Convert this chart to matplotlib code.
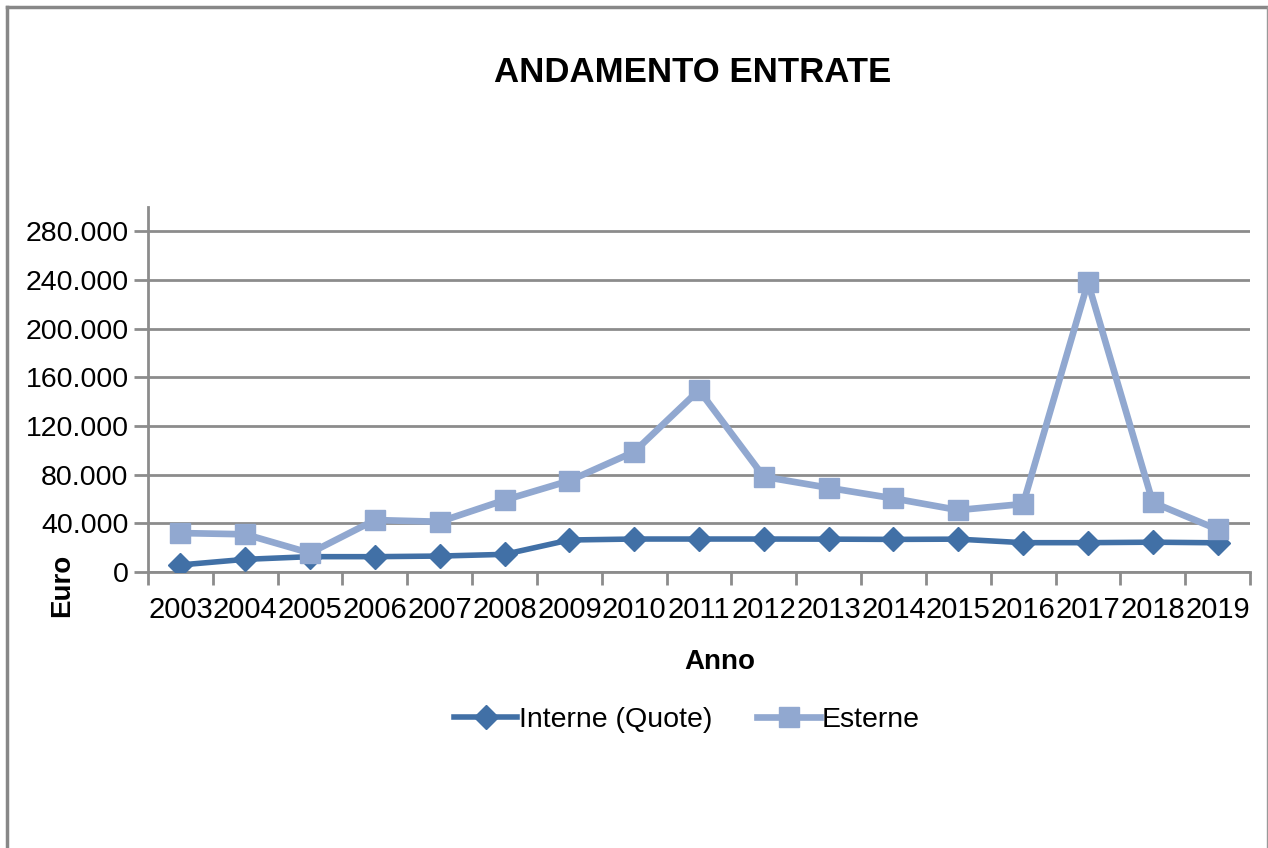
import matplotlib.pyplot as plt
from matplotlib.lines import Line2D

plt.rcParams["font.family"] = ["Liberation Sans", "DejaVu Sans"]

anni = ["2003", "2004", "2005", "2006", "2007", "2008", "2009", "2010", "2011",
        "2012", "2013", "2014", "2015", "2016", "2017", "2018", "2019"]
interne = [5800, 10400, 12600, 12600, 13100, 14500, 26300, 27100, 27100,
           27100, 27000, 26800, 27000, 24100, 24100, 24500, 24000]
esterne = [32000, 31000, 15600, 42700, 41300, 59100, 75000, 98800, 149500,
           78300, 69200, 60500, 50900, 55900, 238000, 57200, 35000]
y_ticks = [0, 40000, 80000, 120000, 160000, 200000, 240000, 280000]

DARK = "#4170a6"
LIGHT = "#91a8d0"
GRID = "#8c8c8c"

fig = plt.figure(figsize=(12.68, 8.48), dpi=100, facecolor="white")
ax = fig.add_axes([148 / 1268, 1 - 572 / 848, 1102 / 1268, 365 / 848])

x = list(range(len(anni)))
ax.plot(x, interne, color=DARK, lw=4, marker="D", ms=12, mec=DARK, mfc=DARK, zorder=3,
        label="Interne (Quote)")
ax.plot(x, esterne, color=LIGHT, lw=4.8, marker="s", ms=14, mec=LIGHT, mfc=LIGHT, zorder=4,
        label="Esterne")

ax.set_xlim(-0.5, len(anni) - 0.5)
ax.set_ylim(0, 300000)
ax.set_yticks(y_ticks)
ax.set_yticklabels([f"{v:,}".replace(",", ".") for v in y_ticks], fontsize=20.5)
ax.set_xticks([i - 0.5 for i in range(len(anni) + 1)])
ax.set_xticklabels([])
ax.set_xticks(x, minor=True)
ax.set_xticklabels(anni, minor=True, fontsize=21)
ax.tick_params(axis="x", which="major", length=9, width=2, color=GRID, direction="out")
ax.tick_params(axis="x", which="minor", length=0, pad=17)
ax.tick_params(axis="y", length=10, width=2, color=GRID, pad=4)

ax.grid(axis="y", color=GRID, lw=2)
ax.set_axisbelow(True)
for side in ["top", "right"]:
    ax.spines[side].set_visible(False)
for side in ["left", "bottom"]:
    ax.spines[side].set_color(GRID)
    ax.spines[side].set_linewidth(2)

fig.text(693 / 1268, 1 - 73 / 848, "ANDAMENTO ENTRATE", fontsize=25, fontweight="bold",
         ha="center", va="center")
fig.text(62 / 1268, 1 - 585 / 848, "Euro", fontsize=20, fontweight="bold", rotation=90,
         ha="center", va="center")
fig.text(720 / 1268, 1 - 662 / 848, "Anno", fontsize=20, fontweight="bold",
         ha="center", va="center")

handles = [Line2D([], [], color=DARK, lw=4, marker="D", ms=12),
           Line2D([], [], color=LIGHT, lw=4.8, marker="s", ms=14)]
fig.legend(handles, ["Interne (Quote)", "Esterne"], loc="center",
           bbox_to_anchor=(687 / 1268, 1 - 720 / 848), ncol=2, frameon=False,
           fontsize=20.5, handlelength=2.2, handletextpad=0.05, columnspacing=1.6)

# chart frame
fig.add_artist(Line2D([7 / 1268, 7 / 1268], [0, 1 - 7 / 848], color="#888888", lw=2.5))
fig.add_artist(Line2D([7 / 1268, 1267 / 1268], [1 - 7 / 848, 1 - 7 / 848], color="#888888", lw=2.5))
fig.add_artist(Line2D([1266.5 / 1268, 1266.5 / 1268], [0, 1 - 7 / 848], color="#999999", lw=1))

fig.savefig("out.png", dpi=100, facecolor="white")
